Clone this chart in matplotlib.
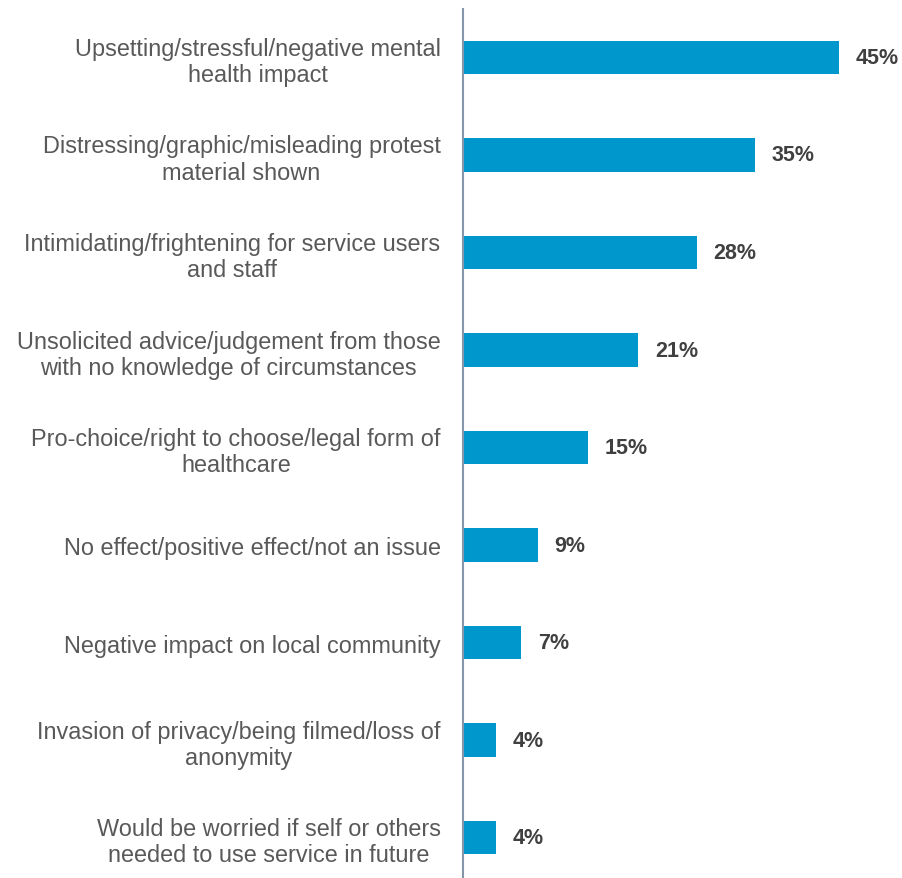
import matplotlib.pyplot as plt

plt.rcParams['font.family'] = ['Liberation Sans', 'DejaVu Sans']

categories = [
    'Upsetting/stressful/negative mental\nhealth impact',
    'Distressing/graphic/misleading protest\nmaterial shown',
    'Intimidating/frightening for service users\nand staff',
    'Unsolicited advice/judgement from those\nwith no knowledge of circumstances',
    'Pro-choice/right to choose/legal form of\nhealthcare',
    'No effect/positive effect/not an issue',
    'Negative impact on local community',
    'Invasion of privacy/being filmed/loss of\nanonymity',
    'Would be worried if self or others\nneeded to use service in future',
]
values = [45, 35, 28, 21, 15, 9, 7, 4, 4]
value_labels = ['45%', '35%', '28%', '21%', '15%', '9%', '7%', '4%', '4%']

fig = plt.figure(figsize=(9.02, 8.79), dpi=100)
ax = fig.add_axes([0.513, 0.0, 0.463, 0.9886])

y = list(range(len(categories)))
ax.barh(y, values, height=0.34, color='#0098CC')

for yi, v, lab in zip(y, values, value_labels):
    ax.annotate(lab, xy=(v, yi), xytext=(12, 0), textcoords='offset points',
                ha='left', va='center', fontsize=15.5, fontweight='bold',
                color='#404040', annotation_clip=False)

ax.set_xlim(0, 50)
ax.set_ylim(8.415, -0.497)
ax.set_yticks(y)
ax.set_yticklabels(categories, fontsize=16.9, color='#595959',
                   multialignment='center', linespacing=1.18)
ax.tick_params(axis='y', length=0, pad=16)
ax.set_xticks([])

for side in ['top', 'right', 'bottom']:
    ax.spines[side].set_visible(False)
ax.spines['left'].set_color('#8497A8')
ax.spines['left'].set_linewidth(1.5)

fig.savefig('out.png', dpi=100)
